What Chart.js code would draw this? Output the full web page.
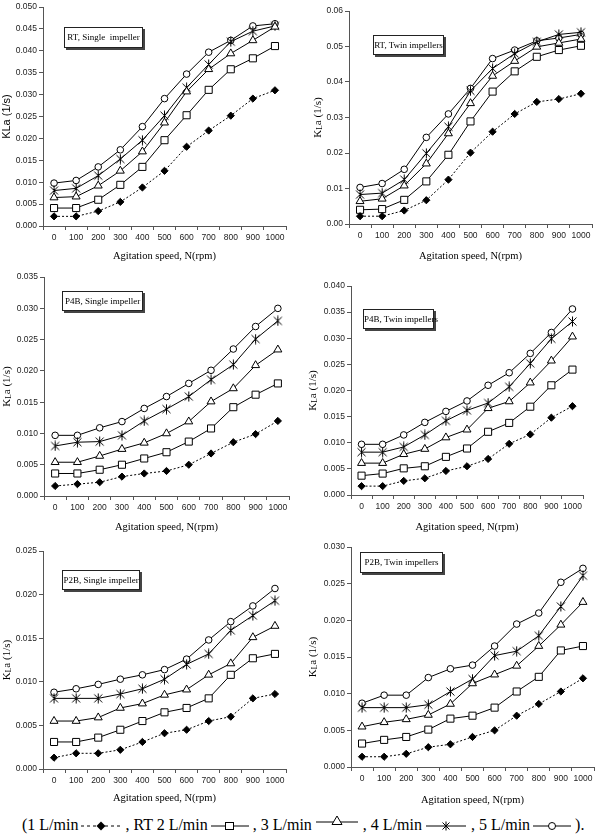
<!DOCTYPE html>
<html>
<head>
<meta charset="utf-8">
<script src="https://cdn.jsdelivr.net/npm/chart.js"></script>
<style>
  html, body { margin: 0; padding: 0; background: #fff; }
  #page { position: relative; width: 600px; height: 838px; overflow: hidden; }
  canvas { position: absolute; }
  .tag {
    position: absolute; box-sizing: border-box;
    border: 1px solid #222; background: #fff;
    box-shadow: 2px 2px 0 #444;
    font: 9px "Liberation Serif", "Times New Roman", serif;
    color: #000; white-space: pre; text-align: center;
  }
  #legend {
    position: absolute; left: 22px; top: 816px; line-height: 18px;
    font: 16px "Liberation Serif", "Times New Roman", serif;
    white-space: nowrap; color: #000;
  }
  #legend svg { vertical-align: middle; margin: 0 3px 0 2px; }
</style>
</head>
<body>
<div id="page">
  <canvas id="c1"></canvas><canvas id="c2"></canvas>
  <canvas id="c3"></canvas><canvas id="c4"></canvas>
  <canvas id="c5"></canvas><canvas id="c6"></canvas>
  <div class="tag" style="left:64px;top:27px;width:79px;height:21px;line-height:19px">RT, Single  impeller</div>
  <div class="tag" style="left:373px;top:35px;width:71px;height:20px;line-height:18px">RT, Twin impellers</div>
  <div class="tag" style="left:62px;top:291px;width:81px;height:20px;line-height:18px">P4B, Single impeller</div>
  <div class="tag" style="left:363px;top:309px;width:71px;height:20px;line-height:18px">P4B, Twin impellers</div>
  <div class="tag" style="left:62px;top:570px;width:78px;height:20px;line-height:18px">P2B, Single impeller</div>
  <div class="tag" style="left:360px;top:552px;width:83px;height:21px;line-height:19px">P2B, Twin impellers</div>
  <div id="legend">(1 L/min<svg width="42" height="14"><line x1="1" y1="7" x2="41" y2="7" stroke="#000" stroke-dasharray="3,3"/><polygon points="21,2.5 25.5,7 21,11.5 16.5,7" fill="#000"/></svg>, RT 2 L/min<svg width="40" height="14"><line x1="1" y1="7" x2="39" y2="7" stroke="#000"/><rect x="15.5" y="3.5" width="8" height="7" fill="#fff" stroke="#000"/></svg>, 3 L/min<svg width="46" height="14" style="position:relative;top:-7px"><line x1="2" y1="10" x2="44" y2="10" stroke="#000"/><polygon points="23,4 28,12.5 18,12.5" fill="#fff" stroke="#000"/></svg>, 4 L/min<svg width="44" height="14"><line x1="2" y1="7" x2="42" y2="7" stroke="#000"/><path d="M22 2.5V11.5M18.5 3.5L25.5 10.5M25.5 3.5L18.5 10.5" stroke="#000"/></svg>, 5 L/min<svg width="40" height="14"><line x1="1" y1="7" x2="39" y2="7" stroke="#000"/><circle cx="20" cy="7" r="3.5" fill="#fff" stroke="#000"/></svg>).</div>
</div>
<script>
// categories and series
const speeds = ['0', '100', '200', '300', '400', '500', '600', '700', '800', '900', '1000'];
const flows = ['1 L/min', '2 L/min', '3 L/min', '4 L/min', '5 L/min'];

// RT, single impeller
const rtS1 = [0.0022, 0.0022, 0.0034, 0.0055, 0.0088, 0.0126, 0.0181, 0.0218, 0.0252, 0.0291, 0.0310];
const rtS2 = [0.0041, 0.0041, 0.0060, 0.0094, 0.0135, 0.0196, 0.0253, 0.0311, 0.0358, 0.0383, 0.0411];
const rtS3 = [0.0065, 0.0067, 0.0092, 0.0126, 0.0170, 0.0236, 0.0307, 0.0358, 0.0394, 0.0424, 0.0455];
const rtS4 = [0.0081, 0.0086, 0.0115, 0.0153, 0.0196, 0.0252, 0.0316, 0.0369, 0.0421, 0.0445, 0.0457];
const rtS5 = [0.0098, 0.0104, 0.0135, 0.0174, 0.0227, 0.0291, 0.0347, 0.0397, 0.0424, 0.0457, 0.0462];

// RT, twin impellers
const rtT1 = [0.0022, 0.0022, 0.0038, 0.0067, 0.0125, 0.0201, 0.0260, 0.0310, 0.0344, 0.0352, 0.0367];
const rtT2 = [0.0040, 0.0042, 0.0068, 0.0120, 0.0195, 0.0289, 0.0373, 0.0430, 0.0471, 0.0490, 0.0502];
const rtT3 = [0.0064, 0.0071, 0.0108, 0.0170, 0.0255, 0.0340, 0.0417, 0.0459, 0.0499, 0.0510, 0.0521];
const rtT4 = [0.0083, 0.0087, 0.0125, 0.0199, 0.0274, 0.0375, 0.0438, 0.0480, 0.0513, 0.0534, 0.0540];
const rtT5 = [0.0103, 0.0114, 0.0154, 0.0244, 0.0310, 0.0382, 0.0466, 0.0490, 0.0516, 0.0524, 0.0534];

// P4B, single impeller
const p4S1 = [0.0016, 0.0019, 0.0022, 0.0031, 0.0036, 0.0040, 0.0050, 0.0068, 0.0086, 0.0099, 0.0120];
const p4S2 = [0.0036, 0.0036, 0.0042, 0.0050, 0.0060, 0.0070, 0.0087, 0.0108, 0.0142, 0.0162, 0.0180];
const p4S3 = [0.0054, 0.0054, 0.0064, 0.0075, 0.0085, 0.0100, 0.0119, 0.0151, 0.0172, 0.0209, 0.0234];
const p4S4 = [0.0080, 0.0086, 0.0087, 0.0097, 0.0120, 0.0139, 0.0159, 0.0186, 0.0210, 0.0251, 0.0280];
const p4S5 = [0.0097, 0.0097, 0.0109, 0.0119, 0.0140, 0.0159, 0.0180, 0.0201, 0.0235, 0.0271, 0.0300];

// P4B, twin impellers
const p4T1 = [0.0017, 0.0017, 0.0027, 0.0032, 0.0046, 0.0055, 0.0069, 0.0098, 0.0116, 0.0148, 0.0170];
const p4T2 = [0.0037, 0.0041, 0.0051, 0.0055, 0.0073, 0.0089, 0.0121, 0.0138, 0.0169, 0.0210, 0.0240];
const p4T3 = [0.0061, 0.0061, 0.0078, 0.0088, 0.0110, 0.0125, 0.0166, 0.0179, 0.0215, 0.0257, 0.0303];
const p4T4 = [0.0082, 0.0082, 0.0092, 0.0115, 0.0142, 0.0162, 0.0176, 0.0207, 0.0252, 0.0299, 0.0332];
const p4T5 = [0.0097, 0.0097, 0.0115, 0.0139, 0.0160, 0.0180, 0.0210, 0.0234, 0.0271, 0.0311, 0.0356];

// P2B, single impeller
const p2S1 = [0.0013, 0.0018, 0.0018, 0.0022, 0.0031, 0.0041, 0.0045, 0.0055, 0.0060, 0.0081, 0.0086];
const p2S2 = [0.0031, 0.0031, 0.0036, 0.0045, 0.0055, 0.0065, 0.0070, 0.0081, 0.0108, 0.0127, 0.0132];
const p2S3 = [0.0055, 0.0055, 0.0059, 0.0070, 0.0075, 0.0085, 0.0091, 0.0108, 0.0121, 0.0151, 0.0164];
const p2S4 = [0.0081, 0.0081, 0.0081, 0.0086, 0.0092, 0.0103, 0.0120, 0.0132, 0.0159, 0.0176, 0.0193];
const p2S5 = [0.0088, 0.0092, 0.0097, 0.0103, 0.0108, 0.0114, 0.0126, 0.0148, 0.0169, 0.0187, 0.0207];

// P2B, twin impellers
const p2T1 = [0.0014, 0.0014, 0.0018, 0.0027, 0.0031, 0.0041, 0.0050, 0.0070, 0.0086, 0.0103, 0.0121];
const p2T2 = [0.0032, 0.0037, 0.0041, 0.0051, 0.0066, 0.0070, 0.0081, 0.0103, 0.0123, 0.0159, 0.0165];
const p2T3 = [0.0055, 0.0061, 0.0065, 0.0071, 0.0086, 0.0114, 0.0126, 0.0138, 0.0165, 0.0194, 0.0225];
const p2T4 = [0.0081, 0.0081, 0.0081, 0.0085, 0.0103, 0.0120, 0.0152, 0.0158, 0.0179, 0.0219, 0.0261];
const p2T5 = [0.0087, 0.0098, 0.0098, 0.0122, 0.0134, 0.0139, 0.0165, 0.0195, 0.0210, 0.0252, 0.0271];

// asterisk marker (vertical bar + X), Chart.js star has 8 arms
function makeAsterisk() {
    const c = document.createElement('canvas');
    c.width = 11; c.height = 11;
    const g = c.getContext('2d');
    g.strokeStyle = '#000';
    g.lineWidth = 1;
    g.beginPath();
    g.moveTo(5.5, 0.5); g.lineTo(5.5, 10.5);
    g.moveTo(1.5, 1.5); g.lineTo(9.5, 9.5);
    g.moveTo(9.5, 1.5); g.lineTo(1.5, 9.5);
    g.stroke();
    return c;
}
const asterisk = makeAsterisk();

const seriesStyle = [
    { pointStyle: 'rectRot', radius: 3.6, fill: '#000', dash: [2, 2] },
    { pointStyle: 'rect', radius: 5, fill: '#fff', dash: [] },
    { pointStyle: 'triangle', radius: 4.6, fill: '#fff', dash: [] },
    { pointStyle: asterisk, radius: 5, fill: '#fff', dash: [] },
    { pointStyle: 'circle', radius: 3.3, fill: '#fff', dash: [] }
];

// draws axis titles (y title may carry a subscript L)
const axisTitles = {
    id: 'axisTitles',
    afterDraw(chart, args, o) {
        const { ctx, chartArea } = chart;
        ctx.save();
        ctx.fillStyle = '#000';
        ctx.textBaseline = 'middle';
        ctx.font = '10.5px "Liberation Serif", "Times New Roman", serif';
        ctx.textAlign = 'center';
        ctx.fillText('Agitation speed, N(rpm)', (chartArea.left + chartArea.right) / 2, o.xY);

        ctx.translate(o.yX, (chartArea.top + chartArea.bottom) / 2);
        ctx.rotate(-Math.PI / 2);
        ctx.textAlign = 'left';
        const big = o.sans ? '11px "Liberation Sans", Arial, sans-serif' : '11px "Liberation Serif", "Times New Roman", serif';
        const small = '7.5px "Liberation Serif", "Times New Roman", serif';
        let total = 0;
        o.parts.forEach(p => { ctx.font = p[1] ? small : big; total += ctx.measureText(p[0]).width; });
        let x = -total / 2;
        o.parts.forEach(p => {
            ctx.font = p[1] ? small : big;
            ctx.fillText(p[0], x, p[1] ? 2.5 : 0);
            x += ctx.measureText(p[0]).width;
        });
        ctx.restore();
    }
};

function drawPanel(id, pos, series, yMax, yStep, dec) {
    const cv = document.getElementById(id);
    cv.style.left = pos.left + 'px';
    cv.style.top = pos.top + 'px';
    cv.width = 300; cv.height = pos.h;
    cv.style.width = '300px'; cv.style.height = pos.h + 'px';

    const datasets = series.map((d, i) => ({
        label: flows[i],
        data: d,
        borderColor: '#000',
        borderWidth: 1,
        borderDash: seriesStyle[i].dash,
        pointStyle: seriesStyle[i].pointStyle,
        pointRadius: seriesStyle[i].radius,
        pointBackgroundColor: seriesStyle[i].fill,
        pointBorderColor: '#000',
        pointBorderWidth: 1,
        tension: 0,
        fill: false
    }));

    return new Chart(cv.getContext('2d'), {
        type: 'line',
        data: { labels: speeds, datasets: datasets },
        plugins: [axisTitles],
        options: {
            responsive: false,
            animation: false,
            events: [],
            layout: { padding: { top: pos.T, right: 300 - pos.R, bottom: 0, left: 0 } },
            plugins: {
                legend: { display: false },
                tooltip: { enabled: false },
                axisTitles: { xY: pos.xY, yX: pos.yX, parts: pos.parts, sans: pos.sans }
            },
            scales: {
                x: {
                    type: 'category',
                    offset: true,
                    afterFit: s => { s.height = pos.h - pos.B; },
                    border: { color: '#555', width: 1 },
                    grid: { offset: true, drawOnChartArea: false, drawTicks: true, tickLength: 4, color: '#555' },
                    ticks: {
                        color: '#222', padding: 3, maxRotation: 0, autoSkip: false,
                        font: { family: '"Liberation Sans", Arial, sans-serif', size: 8.5 }
                    }
                },
                y: {
                    min: 0,
                    max: yMax,
                    afterFit: s => { s.width = pos.L; },
                    border: { color: '#555', width: 1 },
                    grid: { drawOnChartArea: false, drawTicks: true, tickLength: 4, color: '#555' },
                    ticks: {
                        stepSize: yStep, color: '#222', padding: 2,
                        font: { family: '"Liberation Sans", Arial, sans-serif', size: 8.5 },
                        callback: v => Number(v).toFixed(dec)
                    }
                }
            }
        }
    });
}

const subTitle = [['K', false], ['L', true], ['a (1/s)', false]];

drawPanel('c1', { left: 0, top: 0, h: 265, L: 43, R: 286, T: 5, B: 226, xY: 256, yX: 7, parts: [['KLa (1/s)', false]], sans: true },
    [rtS1, rtS2, rtS3, rtS4, rtS5], 0.05, 0.005, 3);
drawPanel('c2', { left: 300, top: 0, h: 265, L: 49, R: 292, T: 11, B: 224, xY: 256, yX: 18, parts: subTitle },
    [rtT1, rtT2, rtT3, rtT4, rtT5], 0.06, 0.01, 2);
drawPanel('c3', { left: 0, top: 270, h: 265, L: 44, R: 289, T: 5, B: 226, xY: 257, yX: 7, parts: subTitle },
    [p4S1, p4S2, p4S3, p4S4, p4S5], 0.035, 0.005, 3);
drawPanel('c4', { left: 300, top: 270, h: 265, L: 51, R: 283, T: 16, B: 225, xY: 257, yX: 13, parts: subTitle },
    [p4T1, p4T2, p4T3, p4T4, p4T5], 0.04, 0.005, 3);
drawPanel('c5', { left: 0, top: 540, h: 270, L: 43, R: 286, T: 11, B: 229, xY: 258, yX: 7, parts: subTitle },
    [p2S1, p2S2, p2S3, p2S4, p2S5], 0.025, 0.005, 3);
drawPanel('c6', { left: 300, top: 540, h: 270, L: 51, R: 299, T: 6, B: 227, xY: 260, yX: 13, parts: subTitle },
    [p2T1, p2T2, p2T3, p2T4, p2T5], 0.03, 0.005, 3);
</script>
</body>
</html>
